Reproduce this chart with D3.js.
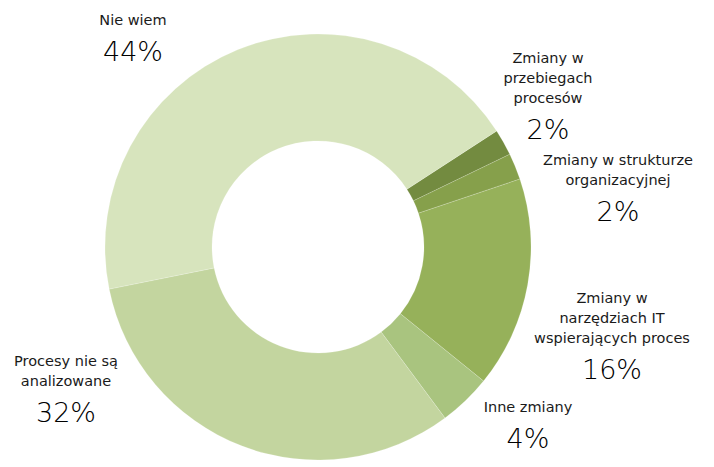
<!DOCTYPE html>
<html><head><meta charset="utf-8">
<script src="https://cdn.jsdelivr.net/npm/d3@7"></script>
<style>body{margin:0;background:#fff;} svg{display:block;}</style>
</head><body>
<svg id="c" width="714" height="467"></svg>
<script>
const categories = ["Zmiany w przebiegach procesów","Zmiany w strukturze organizacyjnej","Zmiany w narzędziach IT wspierających proces","Inne zmiany","Procesy nie są analizowane","Nie wiem"];
const values = [2, 2, 16, 4, 32, 44];
const labelLines = [["Zmiany w","przebiegach","procesów"],["Zmiany w strukturze","organizacyjnej"],["Zmiany w","narzędziach IT","wspierających proces"],["Inne zmiany"],["Procesy nie są","analizowane"],["Nie wiem"]];
const percentLabels = ["2%","2%","16%","4%","32%","44%"];
const colors = ["#738b40","#86a04b","#96b15a","#a9c47f","#c3d59f","#d7e4bd"];
const labelPos = [[548,58],[618,160],[612,298],[528,407],[66,361],[133,20]];

const svg = d3.select("#c");
const cx = 318, cy = 247, R = 213, r = 106;
const start = 57 * Math.PI / 180;
const pie = d3.pie().sort(null).value(d => d).startAngle(start).endAngle(start + 2*Math.PI);
const arc = d3.arc().innerRadius(r).outerRadius(R);
const g = svg.append("g").attr("transform", `translate(${cx},${cy})`);
g.selectAll("path").data(pie(values)).join("path")
  .attr("d", arc).attr("fill", (d,i) => colors[i])
  .attr("stroke", "rgba(255,255,255,0.25)").attr("stroke-width", 0.7);

const font = "'DejaVu Sans', sans-serif";
labelLines.forEach((lines, i) => {
  const [x, y] = labelPos[i];
  const t = svg.append("g");
  lines.forEach((ln, j) => {
    t.append("text").attr("x", x).attr("y", y + j*20).attr("text-anchor","middle")
      .attr("dominant-baseline","central").attr("font-family", font).attr("font-size", 14.5)
      .attr("fill", "#1a1a1a").text(ln);
  });
  t.append("text").attr("x", x).attr("y", y + (lines.length-1)*20 + 31)
    .attr("text-anchor","middle").attr("dominant-baseline","central")
    .attr("font-family", font).attr("font-size", 27).attr("font-weight", 200)
    .attr("fill", "#000").text(percentLabels[i]);
});
</script>
</body></html>
